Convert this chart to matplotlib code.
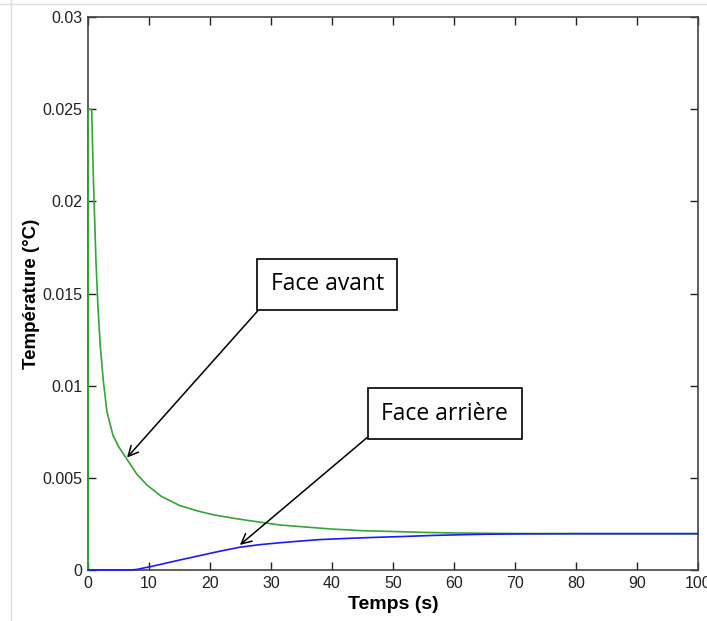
import matplotlib
matplotlib.use("Agg")
import matplotlib.pyplot as plt
from matplotlib.lines import Line2D

# Data
t_front = [0, 0.02, 0.05, 0.6, 0.9, 1.3, 1.6, 2.0, 2.5, 3.1, 4.1, 5.0, 6.4, 8.0, 9.7, 12, 15, 18, 20.5,
           24, 26, 31.5, 35, 40, 43, 45, 51, 55, 60, 65, 70, 80, 100]
T_front = [0, 0.0137, 0.025, 0.025, 0.021, 0.0168, 0.0145, 0.0122, 0.0103, 0.0086, 0.0073, 0.0067, 0.0060,
           0.0052, 0.0046, 0.0040, 0.0035, 0.0032, 0.0030, 0.0028, 0.0027, 0.00244, 0.00235, 0.00222,
           0.00217, 0.00213, 0.00208, 0.00204, 0.00201, 0.00199, 0.00198, 0.00197, 0.00197]
t_back = [0, 7, 8, 9, 10.2, 12.5, 15, 17.5, 20.5, 22.5, 25, 28, 31.5, 34.8, 38, 43, 47, 51, 57, 65, 72, 80, 100]
T_back = [0, 0, 0.00003, 0.0001, 0.00018, 0.00035, 0.00054, 0.00072, 0.00094, 0.00108, 0.00124, 0.00137,
          0.00148, 0.00157, 0.00165, 0.00172, 0.00177, 0.00181, 0.00188, 0.00194, 0.00196, 0.00197, 0.00197]
xticks = [0, 10, 20, 30, 40, 50, 60, 70, 80, 90, 100]
yticks = [0, 0.005, 0.01, 0.015, 0.02, 0.025, 0.03]
ytick_labels = ["0", "0.005", "0.01", "0.015", "0.02", "0.025", "0.03"]

plt.rcParams['font.family'] = ['Liberation Sans', 'DejaVu Sans']

fig = plt.figure(figsize=(7.07, 6.21), dpi=100)
ax = fig.add_axes([88/707, 51/621, 610/707, 553/621])

ax.plot(t_front, T_front, color='#33a633', lw=1.2, clip_on=False, zorder=4)
ax.plot(t_back, T_back, color='#1a1aff', lw=1.2, clip_on=False, zorder=5)

ax.set_xlim(0, 100)
ax.set_ylim(0, 0.03)
ax.set_xticks(xticks)
ax.set_yticks(yticks)
ax.set_yticklabels(ytick_labels)
ax.tick_params(direction='in', top=True, right=True, length=6, width=1, labelsize=11.5,
               colors='#222222', pad=4)
for s in ax.spines.values():
    s.set_color('#444444')
    s.set_linewidth(1.2)

ax.set_xlabel('Temps (s)', fontsize=14, fontweight='bold', labelpad=4)
ax.set_ylabel('Température (°C)', fontsize=13.5, fontweight='bold', labelpad=2)

box = dict(boxstyle='square,pad=0.6', fc='white', ec='black', lw=1.2)
arrow = dict(arrowstyle='->', color='black', lw=1.1, relpos=(0, 0), shrinkA=0, shrinkB=0, mutation_scale=18)
ax.annotate('Face avant', xy=(6.4, 0.0061), xytext=(39.2, 0.01549), textcoords='data',
            ha='center', va='center', fontsize=16.5, family=['Open Sans', 'DejaVu Sans'],
            bbox=box, arrowprops=arrow, zorder=6)
ax.annotate('Face arrière', xy=(24.9, 0.00136), xytext=(58.5, 0.00849), textcoords='data',
            ha='center', va='center', fontsize=16.5, family=['Open Sans', 'DejaVu Sans'],
            bbox=box, arrowprops=arrow, zorder=6)

# faint screenshot border lines
fig.add_artist(Line2D([0, 1], [1 - 4/621, 1 - 4/621], transform=fig.transFigure, color='#dddddd', lw=1))
fig.add_artist(Line2D([11/707, 11/707], [0, 1], transform=fig.transFigure, color='#dddddd', lw=1))

fig.savefig('out.png', dpi=100)
